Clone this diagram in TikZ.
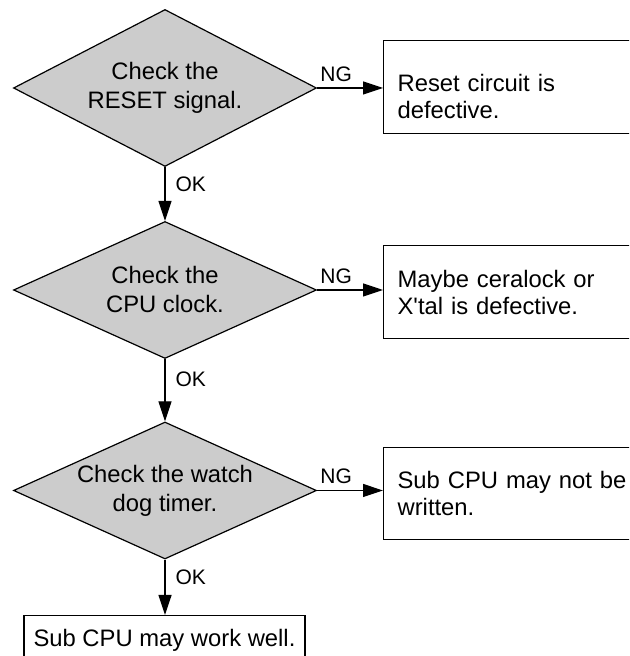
\documentclass[tikz,border=0pt]{standalone}
\usepackage{fontspec}
\setmainfont{Liberation Sans}
\usetikzlibrary{shapes.geometric,arrows.meta}
\definecolor{checkgray}{RGB}{204,204,204}

\begin{document}
\begin{tikzpicture}[
    x=0.5pt, y=0.5pt,
    line width=0.6pt,
    check/.style={draw, fill=checkgray, diamond, aspect=2.2, inner sep=0pt, minimum width=151.5pt, align=center, font=\fontsize{11.9}{14.5}\selectfont},
    result/.style={draw, anchor=north west, minimum height=46.5pt, inner xsep=7pt, text width=124pt, align=left, font=\fontsize{11.9}{13.5}\selectfont},
    arrow/.style={-{Triangle[length=10pt,width=6.5pt]}},
    lbl/.style={font=\fontsize{10.5}{12}\selectfont, inner sep=0pt}
]
\useasboundingbox (0,0) rectangle (629,656);
\clip (0,0) rectangle (629,656);

\node[check, minimum height=78.5pt] (rst) at (165,568) {Check the\\RESET signal.};
\node[check, minimum height=68.5pt] (clk) at (165,366) {Check the\\CPU clock.};
\node[check, minimum height=68.5pt] (wdt) at (165,165.5) {Check the watch\\dog timer.};

\node[result, text height=18.5pt] (rstng) at (383,616) {Reset circuit is\\defective.};
\node[result] (clkng) at (383,411) {Maybe ceralock or\\X\textquotesingle tal is defective.};
\node[result, minimum height=46pt] (wdtng) at (383,209) {Sub CPU may not be\\written.};
\node[draw, anchor=north, minimum width=140.5pt, minimum height=25pt,
      font=\fontsize{11.9}{13.5}\selectfont] (subok) at (164.5,41) {Sub CPU may work well.};

\draw[arrow] (rst.east) -- (rst.east -| rstng.west) node[lbl, pos=0.29, above=3pt] {NG};
\draw[arrow] (clk.east) -- (clk.east -| clkng.west) node[lbl, pos=0.29, above=3pt] {NG};
\draw[arrow] (wdt.east) -- (wdt.east -| wdtng.west) node[lbl, pos=0.29, above=3pt] {NG};

\draw[arrow] (rst.south) -- (clk.north) node[lbl, pos=0.32, right=5pt] {OK};
\draw[arrow] (clk.south) -- (wdt.north) node[lbl, pos=0.32, right=5pt] {OK};
\draw[arrow] (wdt.south) -- (wdt.south |- subok.north) node[lbl, pos=0.32, right=5pt] {OK};

\end{tikzpicture}
\end{document}
